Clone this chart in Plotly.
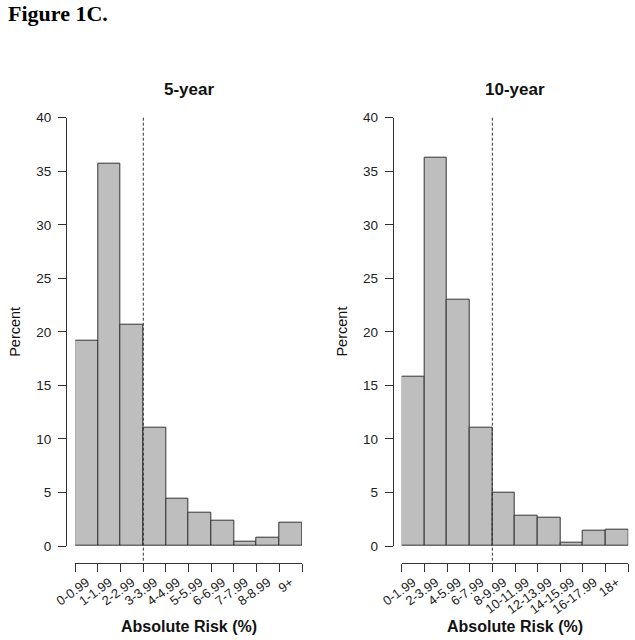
import plotly.graph_objects as go

W, H = 635, 640

# ---- data ----
cats_5yr = ["0-0.99", "1-1.99", "2-2.99", "3-3.99", "4-4.99", "5-5.99",
            "6-6.99", "7-7.99", "8-8.99", "9+"]
pct_5yr = [19.2, 35.7, 20.7, 11.05, 4.38, 3.12, 2.38, 0.38, 0.82, 2.18]

cats_10yr = ["0-1.99", "2-3.99", "4-5.99", "6-7.99", "8-9.99", "10-11.99",
             "12-13.99", "14-15.99", "16-17.99", "18+"]
pct_10yr = [15.85, 36.3, 23.02, 11.05, 4.97, 2.85, 2.67, 0.33, 1.43, 1.48]

cutoff_bin = [3, 4]          # dashed line after this many bins (3% and 8%)
titles = ["5-year", "10-year"]
yticks = [0, 5, 10, 15, 20, 25, 30, 35, 40]


def px(x):
    return x / W


def py(y):
    return 1 - y / H


FONT = "Liberation Sans"
INK = "#333333"

fig = go.Figure()

panels = [
    dict(cats=cats_5yr, vals=pct_5yr, x0=75.3, x1=302.0, yax=66.0, ylab=15.0, cx=188.7),
    dict(cats=cats_10yr, vals=pct_10yr, x0=401.7, x1=628.3, yax=392.7, ylab=341.7, cx=515.0),
]

y_top, y_bot = 117.7, 546.0
x_axis_pos = 563.0

for i, p in enumerate(panels):
    n = len(p["cats"])
    xa = "x" if i == 0 else "x2"
    ya = "y" if i == 0 else "y2"
    centers = [k + 0.5 for k in range(n)]
    fig.add_trace(go.Bar(
        x=centers, y=p["vals"], width=1.0,
        marker=dict(color="#bebebe", line=dict(color=INK, width=1)),
        xaxis=xa, yaxis=ya, showlegend=False, hoverinfo="skip",
    ))
    xkey = "xaxis" if i == 0 else "xaxis2"
    ykey = "yaxis" if i == 0 else "yaxis2"
    fig.update_layout({
        xkey: dict(
            domain=[px(p["x0"]), px(p["x1"])], range=[0, n],
            anchor="free", position=py(x_axis_pos), automargin=False,
            showline=True, linecolor=INK, linewidth=1,
            showgrid=False, zeroline=False,
            tickmode="array", tickvals=centers, ticktext=p["cats"],
            ticks="", tickangle=-36, ticklabelstandoff=6,
            tickfont=dict(family=FONT, size=13, color="#222"),
            minor=dict(tickmode="array", tickvals=list(range(n + 1)),
                       ticks="outside", ticklen=8, tickwidth=1, tickcolor=INK),
        ),
        ykey: dict(
            domain=[py(y_bot), py(y_top)], range=[0, 40],
            anchor="free", position=px(p["yax"]), automargin=False,
            showline=True, linecolor=INK, linewidth=1,
            showgrid=False, zeroline=False,
            tickmode="array", tickvals=yticks,
            ticks="outside", ticklen=8, tickwidth=1, tickcolor=INK,
            ticklabelstandoff=4,
            tickfont=dict(family=FONT, size=13.5, color="#222"),
        ),
    })
    # dashed reference line
    fig.add_shape(type="line", xref=xa, yref="paper",
                  x0=cutoff_bin[i], x1=cutoff_bin[i],
                  y0=py(y_top), y1=py(561.0),
                  line=dict(color=INK, width=1, dash="3px,2px"))
    # panel title
    fig.add_annotation(text="<b>%s</b>" % titles[i], x=px(p["cx"]), y=py(89.5),
                       xref="paper", yref="paper", showarrow=False,
                       xanchor="center", yanchor="middle",
                       font=dict(family=FONT, size=17, color="#111"))
    # x label
    fig.add_annotation(text="<b>Absolute Risk (%)</b>", x=px(p["cx"]), y=py(626),
                       xref="paper", yref="paper", showarrow=False,
                       xanchor="center", yanchor="middle",
                       font=dict(family=FONT, size=16, color="#111"))
    # y label
    fig.add_annotation(text="Percent", x=px(p["ylab"]), y=py((y_top + y_bot) / 2),
                       xref="paper", yref="paper", showarrow=False, textangle=-90,
                       xanchor="center", yanchor="middle",
                       font=dict(family=FONT, size=14.5, color="#111"))

fig.add_annotation(text="<b>Figure 1C.</b>", x=px(6), y=py(14),
                   xref="paper", yref="paper", showarrow=False,
                   xanchor="left", yanchor="middle",
                   font=dict(family="Liberation Serif", size=22, color="#000"))

fig.update_layout(template="none", width=W, height=H, autosize=False,
                  margin=dict(l=0, r=0, t=0, b=0, pad=0),
                  paper_bgcolor="white", plot_bgcolor="white",
                  bargap=0)

fig.write_html("out.html", config={"displayModeBar": False},
               post_script="document.body.style.margin='0px';"
                           "document.body.style.overflow='hidden';")
